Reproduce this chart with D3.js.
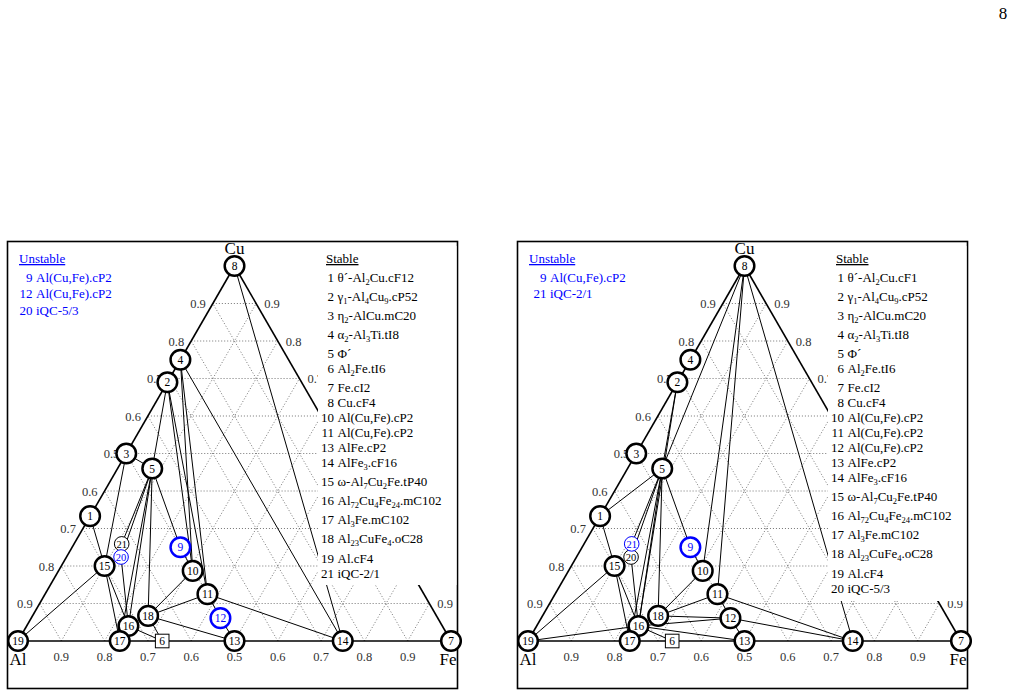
<!DOCTYPE html>
<html><head><meta charset="utf-8">
<script src="https://cdn.jsdelivr.net/npm/d3@7"></script>
<style>body{margin:0;background:#fff}svg{display:block}</style>
</head><body>
<svg id="chart" width="1014" height="697"></svg>
<script>
// ---------- data ----------
const nodeIds = [1,2,3,4,5,6,7,8,9,10,11,12,13,14,15,16,17,18,19,20,21];
const nodeCu  = [0.333,0.69,0.50,0.75,0.46,0,0,1,0.25,0.187,0.125,0.061,0,0,0.20,0.04,0,0.067,0,0.224,0.259];
const nodeFe  = [0,0,0,0,0.08,0.333,1,0,0.25,0.31,0.375,0.437,0.5,0.75,0.10,0.235,0.235,0.267,0,0.126,0.11];
const smallNodes = [20,21];
const squareNodes = [6];
const tickLabels = ["0.9","0.8","0.7","0.6","0.5","0.6","0.7","0.8","0.9"];
const boundary = [[19,8],[19,7],[8,7]];

const leftTies = [[19,15],[1,15],[3,15],[3,5],[2,5],[2,10],[2,11],[4,10],[4,11],[4,14],[8,14],
  [5,21],[5,20],[5,16],[5,17],[5,18],[5,9],[9,10],[20,16],[15,16],[15,17],
  [18,10],[18,11],[18,13],[18,6],[16,6],[11,12],[12,13],[11,14]];
const rightTies = [[19,15],[19,16],[1,15],[1,5],[2,5],[2,16],[8,5],[8,10],[8,11],[8,14],
  [5,21],[5,20],[5,16],[5,17],[5,18],[5,9],[9,10],[20,16],[15,16],[15,17],
  [16,6],[16,12],[16,13],[18,10],[18,11],[18,12],[11,12],[12,13],[11,14],[12,14]];

const leftUnstableNums = [9,12,20];
const leftUnstableLabels = ["Al(Cu,Fe).cP2","Al(Cu,Fe).cP2","iQC-5/3"];
const rightUnstableNums = [9,21];
const rightUnstableLabels = ["Al(Cu,Fe).cP2","iQC-2/1"];

const leftStableNums = [1,2,3,4,5,6,7,8,10,11,13,14,15,16,17,18,19,21];
const leftStableLabels = ["θ´-Al_2Cu.cF12","γ_1-Al_4Cu_9.cP52","η_2-AlCu.mC20","α_2-Al_3Ti.tI8","Φ´",
  "Al_2Fe.tI6","Fe.cI2","Cu.cF4","Al(Cu,Fe).cP2","Al(Cu,Fe).cP2","AlFe.cP2","AlFe_3.cF16",
  "ω-Al_7Cu_2Fe.tP40","Al_72Cu_4Fe_24.mC102","Al_3Fe.mC102","Al_23CuFe_4.oC28","Al.cF4","iQC-2/1"];
const rightStableNums = [1,2,3,4,5,6,7,8,10,11,12,13,14,15,16,17,18,19,20];
const rightStableLabels = ["θ´-Al_2Cu.cF1","γ_1-Al_4Cu_9.cP52","η_2-AlCu.mC20","α_2-Al_3Ti.tI8","Φ´",
  "Al_2Fe.tI6","Fe.cI2","Cu.cF4","Al(Cu,Fe).cP2","Al(Cu,Fe).cP2","Al(Cu,Fe).cP2","AlFe.cP2","AlFe_3.cF16",
  "ω-Al_7Cu_2Fe.tP40","Al_72Cu_4Fe_24.mC102","Al_3Fe.mC102","Al_23CuFe_4.oC28","Al.cF4","iQC-5/3"];

// ---------- drawing ----------
const SERIF = "'Liberation Serif','Times New Roman',Times,serif";
const BLUE = "#0000ff";
const svg = d3.select("#chart");
const SIDE = 433, HT = SIDE*Math.sqrt(3)/2;
const sx = d3.scaleLinear().domain([0,1]).range([0,SIDE]);
const sy = d3.scaleLinear().domain([0,1]).range([0,-HT]);

svg.append("text").attr("x",1003).attr("y",19).attr("text-anchor","middle")
  .attr("font-family",SERIF).attr("font-size",17).text("8");

function addRich(t, str){
  let sub=false;
  str.split(/(_\d+)/).filter(s=>s.length).forEach(p=>{
    if(p[0]==="_"){ t.append("tspan").attr("font-size",8.5).attr("dy", sub?0:3).text(p.slice(1)); sub=true; }
    else { t.append("tspan").attr("dy", sub?-3:0).text(p); sub=false; }
  });
}

function panel(dx, ties, unstable, uNums, uLabels, sNums, sLabels, rectBottom, uShift){
  const g = svg.append("g").attr("transform",`translate(${dx},0)`);
  const ox = 18, oy = 641, rectLeft = 318;
  const P = (c,f)=>[ox+sx(f+c/2), oy+sy(c)];
  const pos = id => { const i=nodeIds.indexOf(id); return P(nodeCu[i], nodeFe[i]); };

  // frame
  g.append("rect").attr("x",7.5).attr("y",241.5).attr("width",450).attr("height",447)
    .attr("fill","none").attr("stroke","#000").attr("stroke-width",1.6);

  // grid
  const grid=[];
  for(let k=1;k<=9;k++){ const t=k/10;
    grid.push([P(t,0),P(t,1-t)]); grid.push([P(0,t),P(1-t,t)]); grid.push([P(0,1-t),P(1-t,0)]); }
  g.append("g").selectAll("line").data(grid).join("line")
    .attr("x1",d=>d[0][0]).attr("y1",d=>d[0][1]).attr("x2",d=>d[1][0]).attr("y2",d=>d[1][1])
    .attr("stroke","#666").attr("stroke-width",0.9).attr("stroke-dasharray","1,2");

  // tie lines
  g.append("g").selectAll("line").data(ties).join("line")
    .attr("x1",d=>pos(d[0])[0]).attr("y1",d=>pos(d[0])[1]).attr("x2",d=>pos(d[1])[0]).attr("y2",d=>pos(d[1])[1])
    .attr("stroke","#000").attr("stroke-width",1);
  g.append("g").selectAll("line").data(boundary).join("line")
    .attr("x1",d=>pos(d[0])[0]).attr("y1",d=>pos(d[0])[1]).attr("x2",d=>pos(d[1])[0]).attr("y2",d=>pos(d[1])[1])
    .attr("stroke","#000").attr("stroke-width",1.6);

  // tick labels (right-edge labels lying fully under the legend box are hidden, as in the original)
  const tl = g.append("g").attr("font-family",SERIF).attr("font-size",12.5).attr("fill","#333");
  tickLabels.forEach((s,i)=>{ const t=(i+1)/10;
    const l=P(t,0); tl.append("text").attr("x",l[0]-7).attr("y",l[1]+4.5).attr("text-anchor","end").text(s);
    const r=P(t,1-t);
    if(!(r[0]+8 >= rectLeft && r[1]+4.5 <= rectBottom))
      tl.append("text").attr("x",r[0]+8).attr("y",r[1]+4.5).attr("text-anchor","start").text(s);
    const b=P(0,t); tl.append("text").attr("x",b[0]).attr("y",b[1]+20).attr("text-anchor","middle").text(s);
  });

  // legend background
  g.append("rect").attr("x",rectLeft).attr("y",246).attr("width",138.5).attr("height",rectBottom-246).attr("fill","#fff");

  // unstable legend
  const ul = g.append("g").attr("font-family",SERIF).attr("font-size",13).attr("fill",BLUE);
  ul.append("text").attr("x",19).attr("y",263).attr("text-decoration","underline").text("Unstable");
  uNums.forEach((n,i)=>{ const y=281.5+i*16.5;
    ul.append("text").attr("x",32.5+uShift).attr("y",y).attr("text-anchor","end").text(n);
    addRich(ul.append("text").attr("x",36+uShift).attr("y",y), uLabels[i]);
  });

  // stable legend
  const sl = g.append("g").attr("font-family",SERIF).attr("font-size",13).attr("fill","#000");
  sl.append("text").attr("x",326).attr("y",263).attr("text-decoration","underline").text("Stable");
  let y=281.5;
  sNums.forEach((n,i)=>{
    if(i>0) y += 15 + (sLabels[i-1].includes("_") ? 4.1 : 0);
    sl.append("text").attr("x",334).attr("y",y).attr("text-anchor","end").text(n);
    addRich(sl.append("text").attr("x",337.5).attr("y",y), sLabels[i]);
  });

  // nodes (unstable drawn last)
  const order = nodeIds.filter(id=>!unstable.includes(id)).concat(nodeIds.filter(id=>unstable.includes(id)));
  const ng = g.append("g").attr("font-family",SERIF);
  order.forEach(id=>{
    const [x,yy]=pos(id); const un=unstable.includes(id); const col=un?BLUE:"#000";
    const small=smallNodes.includes(id);
    if(squareNodes.includes(id)){
      ng.append("rect").attr("x",x-6.8).attr("y",yy-6.8).attr("width",13.6).attr("height",13.6)
        .attr("fill","#fff").attr("stroke","#000").attr("stroke-width",1);
    } else {
      ng.append("circle").attr("cx",x).attr("cy",yy).attr("r",small?7.3:9.8)
        .attr("fill","#fff").attr("stroke",col).attr("stroke-width",small?1:2.5);
    }
    ng.append("text").attr("x",x).attr("y",yy).attr("dy","0.35em").attr("text-anchor","middle")
      .attr("font-size",small?10.5:11.5).attr("fill",col).text(id);
  });

  // corner names
  const cn = g.append("g").attr("font-family",SERIF).attr("font-size",17).attr("fill","#000").attr("text-anchor","middle");
  const c8=P(1,0), c19=P(0,0), c7=P(0,1);
  cn.append("text").attr("x",c8[0]).attr("y",c8[1]-12).text("Cu");
  cn.append("text").attr("x",c19[0]).attr("y",c19[1]+24).text("Al");
  cn.append("text").attr("x",c7[0]-3).attr("y",c7[1]+24).text("Fe");
}

panel(0, leftTies, leftUnstableNums, leftUnstableNums, leftUnstableLabels, leftStableNums, leftStableLabels, 585, 0);
panel(510, rightTies, rightUnstableNums, rightUnstableNums, rightUnstableLabels, rightStableNums, rightStableLabels, 601, 4);
</script>
</body></html>
